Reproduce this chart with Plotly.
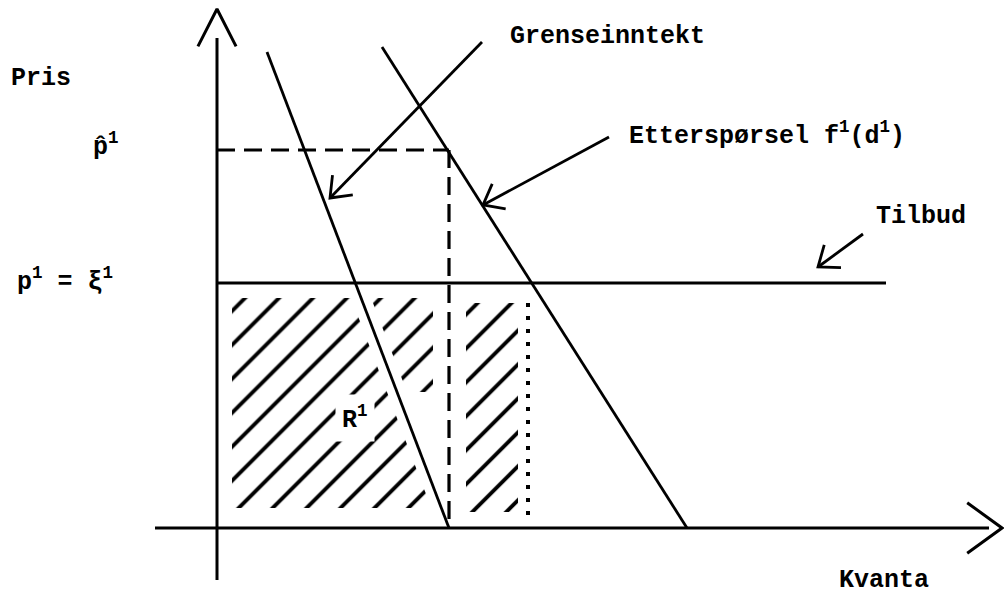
import math
import plotly.graph_objects as go

# ---------------- values ----------------
# units: quantity (x) and price (y); the axes cross at (0, 0)
p_hat = 37.8            # monopoly price  p̂¹ (dashed horizontal)
p_supply = 24.5         # p¹ = ξ¹  (Tilbud / supply line)
q_monopoly = 23.2       # quantity where MR hits the axis (dashed vertical)
q_competitive = 31.1    # dotted vertical

mr_q = [5.0, 23.2]      # Grenseinntekt (marginal revenue) end points
mr_p = [47.6, 0.0]
demand_q = [16.5, 47.0]  # Etterspørsel f¹(d¹) end points
demand_p = [48.1, 0.0]
supply_q = [0.0, 66.9]
supply_p = [p_supply, p_supply]

x_axis_q = [-6.2, 77.2]
y_axis_p = [-5.2, 49.0]
x_axis_tip = 78.5
y_axis_tip = 51.9

# hatched areas (quantity / price limits of the hand hatching)
hatch_left_q0 = 1.5
hatch_p_range = [2.0, 23.0]
hatch_mid_p_range = [13.6, 23.0]
hatch_mid_q1 = 21.6
hatch_right_q = [24.9, 30.1]
hatch_right_p = [1.6, 22.5]
hatch_gap = 1.0

# labels
label_pris = "Pris"
label_phat = "p\u0302<sup>1</sup>"
label_p = "p<sup>1</sup> = \u03be<sup>1</sup>"
label_mr = "Grenseinntekt"
label_demand = "Etterspørsel f<sup>1</sup>(d<sup>1</sup>)"
label_supply = "Tilbud"
label_quantity = "Kvanta"
label_area = "R<sup>1</sup>"

# pointer arrows: (tail, tip)
arrow_mr = [(26.5, 48.6), (11.3, 33.0)]
arrow_demand = [(39.2, 39.1), (26.6, 32.3)]
arrow_supply = [(64.6, 29.4), (60.1, 26.1)]

# ---------------- helpers ----------------
FONT = "Liberation Mono"
INK = "black"


def mr_q_at(p):
    return mr_q[1] + (mr_q[0] - mr_q[1]) * p / mr_p[0]


def chevron(tip, toward, length, angle_deg):
    dx, dy = toward[0] - tip[0], toward[1] - tip[1]
    n = math.hypot(dx, dy)
    ux, uy = dx / n, dy / n
    pts = []
    for s in (1, -1):
        a = math.radians(angle_deg) * s
        rx = ux * math.cos(a) - uy * math.sin(a)
        ry = ux * math.sin(a) + uy * math.cos(a)
        pts.append((tip[0] + length * rx, tip[1] + length * ry))
    return [pts[0][0], tip[0], pts[1][0]], [pts[0][1], tip[1], pts[1][1]]


fig = go.Figure()


def line(xs, ys, width=3, dash=None):
    fig.add_trace(go.Scatter(x=xs, y=ys, mode="lines",
                             line=dict(color=INK, width=width, dash=dash),
                             hoverinfo="skip", showlegend=False))


def hatch(xs, ys):
    fig.add_trace(go.Scatter(
        x=xs + [xs[0]], y=ys + [ys[0]], mode="lines", fill="toself",
        line=dict(width=0, color="rgba(0,0,0,0)"),
        fillcolor="rgba(0,0,0,0)",
        fillpattern=dict(shape="/", size=24, solidity=0.16, fgopacity=1,
                         fgcolor=INK, bgcolor="rgba(0,0,0,0)"),
        hoverinfo="skip", showlegend=False))


# hatching
p0, p1 = hatch_p_range
hatch([hatch_left_q0, mr_q_at(p0) - hatch_gap, mr_q_at(p1) - hatch_gap, hatch_left_q0],
      [p0, p0, p1, p1])
m0, m1 = hatch_mid_p_range
hatch([mr_q_at(m0) + hatch_gap, hatch_mid_q1, hatch_mid_q1, mr_q_at(m1) + hatch_gap],
      [m0, m0, m1, m1])
hatch([hatch_right_q[0], hatch_right_q[1], hatch_right_q[1], hatch_right_q[0]],
      [hatch_right_p[0], hatch_right_p[0], hatch_right_p[1], hatch_right_p[1]])

# axes
line(x_axis_q, [0, 0], width=3)
line([0, 0], y_axis_p, width=3)
cx, cy = chevron((x_axis_tip, 0), (0, 0), 4.3, 36)
line(cx, cy, width=3)
cx, cy = chevron((0, y_axis_tip), (0, 0), 4.2, 27)
line(cx, cy, width=3)

# curves
line(supply_q, supply_p, width=3)
line(mr_q, mr_p, width=2.8)
line(demand_q, demand_p, width=2.8)
line([0, q_monopoly], [p_hat, p_hat], width=3.2, dash="18px,9px")
line([q_monopoly, q_monopoly], [p_hat, 0], width=3.2, dash="18px,9px")
line([q_competitive, q_competitive], [p_supply - 2.0, 0.8], width=4, dash="4px,9px")

# pointer arrows
for tail, tip in (arrow_mr, arrow_demand, arrow_supply):
    line([tail[0], tip[0]], [tail[1], tip[1]], width=2.8)
    cx, cy = chevron(tip, tail, 2.3, 38)
    line(cx, cy, width=2.8)

# labels
ann = []


def text(t, x, y, xanchor="center", size=25, bg=None):
    d = dict(text=t, x=x, y=y, xref="x", yref="y", showarrow=False,
             xanchor=xanchor, yanchor="middle",
             font=dict(family=FONT, size=size, color=INK, weight="bold"))
    if bg:
        d.update(bgcolor=bg, borderpad=6)
    ann.append(d)


text(label_pris, -17.6, 45.0)
text(label_phat, -11.1, 38.3)
text(label_p, -15.2, 24.8)
text(label_mr, 39.0, 49.2)
text(label_demand, 41.0, 39.4, xanchor="left")
text(label_supply, 70.4, 31.2)
text(label_quantity, 66.7, -5.2)
text(label_area, 13.8, 11.0, bg="white")

fig.update_layout(
    width=1004, height=596,
    margin=dict(l=0, r=0, t=0, b=0),
    paper_bgcolor="white", plot_bgcolor="white",
    xaxis=dict(range=[-21.7, 78.7], visible=False, fixedrange=True),
    yaxis=dict(range=[-6.8, 52.8], visible=False, fixedrange=True),
    annotations=ann, hovermode=False, showlegend=False,
)

fig.write_html("out.html", config={"displayModeBar": False},
               post_script="document.body.style.margin='0';")
